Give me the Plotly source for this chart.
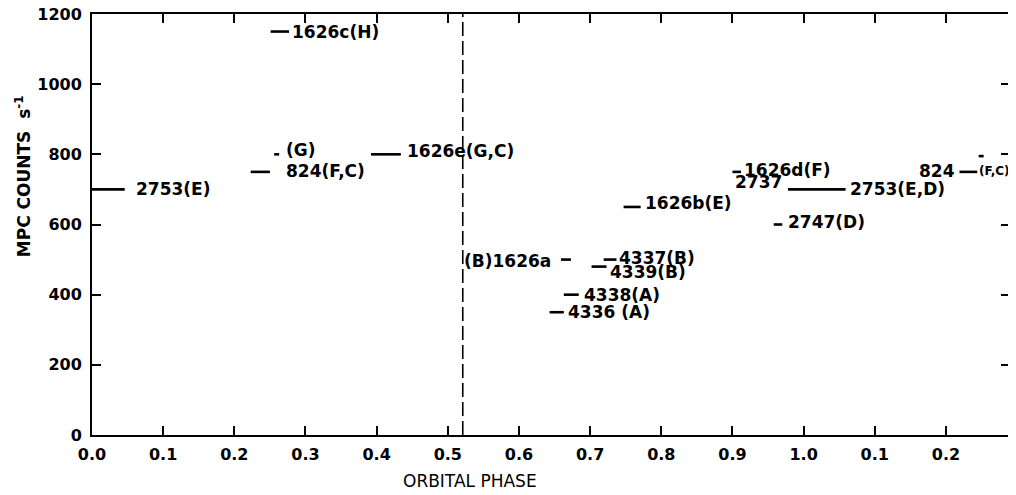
import plotly.graph_objects as go

# ---- data ----
observation = ["2753", "824", "824b", "1626c", "1626e", "1626a", "4337", "4339",
               "4338", "4336", "1626b", "1626d", "2737-2753", "2747", "824r", "824r2"]
phase_start = [0.000, 0.223, 0.256, 0.251, 0.392, 0.659, 0.719, 0.702,
               0.663, 0.643, 0.747, 0.900, 0.978, 0.958, 1.219, 1.246]
phase_end = [0.046, 0.250, 0.263, 0.277, 0.434, 0.673, 0.737, 0.723,
             0.684, 0.663, 0.771, 0.912, 1.059, 0.970, 1.244, 1.253]
counts = [700, 750, 800, 1150, 800, 500, 500, 480,
          400, 350, 650, 750, 700, 600, 750, 795]
label_left = ["", "", "", "", "", "(B)1626a", "", "",
              "", "", "", "", "2737", "", "824", ""]
label_right = ["2753(E)", "824(F,C)", "(G)", "1626c(H)", "1626e(G,C)", "", "4337(B)", "4339(B)",
               "4338(A)", "4336 (A)", "1626b(E)", "1626d(F)", "2753(E,D)", "2747(D)", "(F,C)", ""]
eclipse_phase = 0.521

tick_vals = [0.0, 0.1, 0.2, 0.3, 0.4, 0.5, 0.6, 0.7, 0.8, 0.9, 1.0, 1.1, 1.2]
tick_text = ["0.0", "0.1", "0.2", "0.3", "0.4", "0.5", "0.6", "0.7", "0.8", "0.9", "1.0", "0.1", "0.2"]
y_ticks = [0, 200, 400, 600, 800, 1000, 1200]

# ---- label placement styles (pixel offsets: gap from segment, vertical shift) ----
left_style = {5: (8, -1), 12: (4, 7), 14: (2, 1)}
right_style = {0: (9, 0), 1: (14, 1), 2: (5, 4), 3: (1, 0), 4: (4, 3), 6: (1, 2), 7: (1, -5),
               8: (3, 0), 9: (2, 0), 10: (2, 4), 11: (1, 2), 12: (2, 0), 13: (4, 3), 14: (0, 1)}

FONT = "DejaVu Sans"

xs, ys = [], []
for a, b, c in zip(phase_start, phase_end, counts):
    xs += [a, b, None]
    ys += [c, c, None]

fig = go.Figure()
fig.add_trace(go.Scatter(x=xs, y=ys, mode="lines", line=dict(color="black", width=2.6),
                         hoverinfo="skip", showlegend=False))
fig.add_trace(go.Scatter(x=[eclipse_phase, eclipse_phase], y=[0, 1200], mode="lines",
                         line=dict(color="black", width=1.6, dash="14px,5px"),
                         hoverinfo="skip", showlegend=False))

annotations = []
for i in range(len(counts)):
    if label_left[i]:
        gap, dy = left_style[i]
        annotations.append(dict(x=phase_start[i], y=counts[i], xref="x", yref="y",
                                text=label_left[i], showarrow=False, xanchor="right",
                                yanchor="middle", xshift=-gap, yshift=dy,
                                font=dict(family=FONT, size=17, color="black", weight="bold")))
    if label_right[i]:
        gap, dy = right_style[i]
        size = 12 if i == 14 else 17
        annotations.append(dict(x=phase_end[i], y=counts[i], xref="x", yref="y",
                                text=label_right[i], showarrow=False, xanchor="left",
                                yanchor="middle", xshift=gap, yshift=dy,
                                font=dict(family=FONT, size=size, color="black", weight="bold")))

annotations.append(dict(x=0.412, y=-0.109, xref="paper", yref="paper", text="ORBITAL PHASE",
                        showarrow=False, xanchor="center", yanchor="middle",
                        font=dict(family=FONT, size=17, color="black")))
annotations.append(dict(x=-0.075, y=0.615, xref="paper", yref="paper",
                        text="MPC COUNTS  s<sup>-1</sup>", textangle=-90,
                        showarrow=False, xanchor="center", yanchor="middle",
                        font=dict(family=FONT, size=17, color="black", weight="bold")))

fig.update_layout(
    width=1008, height=487,
    margin=dict(l=84, r=6, t=6, b=60, autoexpand=False),
    paper_bgcolor="white", plot_bgcolor="white",
    annotations=annotations,
    xaxis=dict(range=[0, 1.29], tickvals=tick_vals, ticktext=tick_text,
               ticks="inside", ticklen=9, tickwidth=1.8, tickcolor="black",
               showline=True, linewidth=2, linecolor="black", mirror="ticks",
               showgrid=False, zeroline=False, ticklabelstandoff=4,
               ticklabeloverflow="allow", automargin=False,
               tickfont=dict(family=FONT, size=16, color="black", weight="bold")),
    yaxis=dict(range=[0, 1200], tickvals=y_ticks,
               ticks="inside", ticklen=9, tickwidth=1.8, tickcolor="black",
               showline=True, linewidth=2, linecolor="black", mirror="ticks",
               showgrid=False, zeroline=False, ticklabelstandoff=5,
               ticklabeloverflow="allow", automargin=False,
               tickfont=dict(family=FONT, size=16, color="black", weight="bold")),
)

fig.write_html("out.html")
